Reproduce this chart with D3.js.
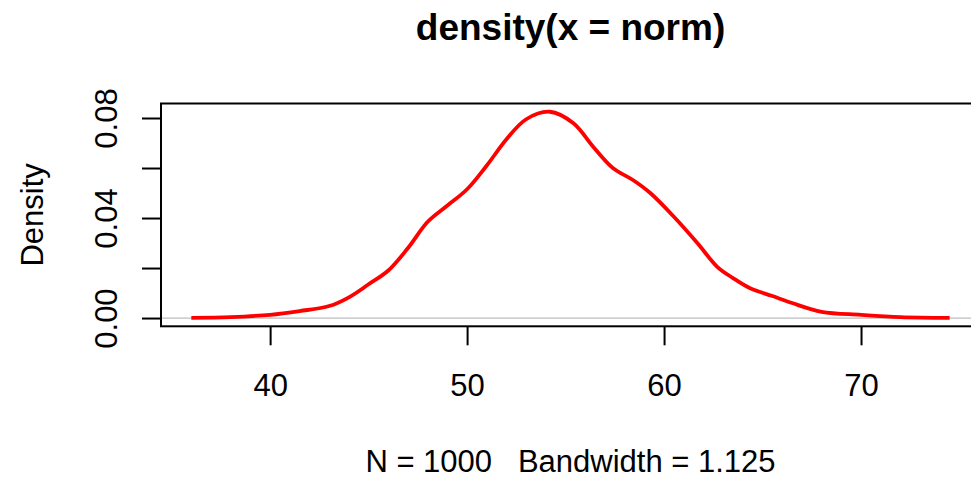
<!DOCTYPE html>
<html>
<head>
<meta charset="utf-8">
<script src="https://cdn.jsdelivr.net/npm/d3@7"></script>
<style>
  body { margin: 0; background: #fff; }
  text { font-family: "Liberation Sans", Arial, sans-serif; white-space: pre; }
</style>
</head>
<body>
<script>
var w = 971;
var h = 477;

// density estimate
var xs = [36, 38, 40, 41.5, 43, 44, 45, 46, 47, 48, 49, 50, 51, 52, 53, 54.2,
          55.4, 56.4, 57.4, 58.4, 59.3, 60.5, 61.7, 62.7, 63.5, 64.4, 65.5, 66.5,
          68, 70, 72, 74.5];
var dens = [0.0001, 0.0004, 0.0013, 0.0028, 0.0048, 0.0083, 0.0135, 0.0190,
            0.0280, 0.0385, 0.0450, 0.0515, 0.0610, 0.0715, 0.0795, 0.0825,
            0.0779, 0.0685, 0.0600, 0.0553, 0.0500, 0.0405, 0.0299, 0.0205,
            0.0160, 0.0118, 0.0088, 0.0060, 0.0025, 0.0013, 0.0004, 0.0001];

var xTicks = [40, 50, 60, 70];
var yTicks = [0, 0.02, 0.04, 0.06, 0.08];
var yLabelled = [0, 0.04, 0.08];

var titleText = "density(x = norm)";
var subText = "N = 1000   Bandwidth = 1.125";
var yTitle = "Density";

// plot region (right edge runs past the window like the original)
var pLeft = 161, pRight = 980, pTop = 103.5, pBottom = 326.3;

// R style 4% padding
var xExt = d3.extent(xs);
var xPad = (xExt[1] - xExt[0]) * 0.04;
var yMax = d3.max(dens);
var yPad = yMax * 0.04;

var x = d3.scaleLinear().domain([xExt[0] - xPad, xExt[1] + xPad]).range([pLeft, pRight]);
var y = d3.scaleLinear().domain([-yPad, yMax + yPad]).range([pBottom, pTop]);

var svg = d3.select("body").append("svg").attr("width", w).attr("height", h);

// zero line
svg.append("line")
  .attr("x1", pLeft).attr("x2", pRight)
  .attr("y1", y(0)).attr("y2", y(0))
  .style("stroke", "#bebebe")
  .style("stroke-width", 1.2);

// the density curve
var line = d3.line()
  .x(function (d, i) { return x(xs[i]); })
  .y(function (d) { return y(d); })
  .curve(d3.curveCatmullRom.alpha(0.5));

svg.append("path")
  .datum(dens)
  .attr("d", line)
  .style("fill", "none")
  .style("stroke", "#ff0000")
  .style("stroke-width", 3.8)
  .style("stroke-linejoin", "round");

// box
svg.append("rect")
  .attr("x", pLeft).attr("y", pTop)
  .attr("width", pRight - pLeft).attr("height", pBottom - pTop)
  .style("fill", "none")
  .style("stroke", "black")
  .style("stroke-width", 2);

// x axis
var gx = svg.append("g")
  .attr("transform", "translate(0," + pBottom + ")")
  .call(d3.axisBottom(x).tickValues(xTicks).tickSize(19).tickFormat(d3.format("d")));
gx.select(".domain").remove();
gx.selectAll("line").style("stroke", "black").style("stroke-width", 2);
gx.selectAll("text")
  .attr("y", 396 - pBottom).attr("dy", 0)
  .style("font-size", "31px").style("fill", "black");

// y axis, labels turned like R's las = 0
var gy = svg.append("g")
  .attr("transform", "translate(" + pLeft + ",0)")
  .call(d3.axisLeft(y).tickValues(yTicks).tickSize(19)
    .tickFormat(function (d) {
      return yLabelled.indexOf(d) >= 0 ? d3.format(".2f")(d) : "";
    }));
gy.select(".domain").remove();
gy.selectAll("line").style("stroke", "black").style("stroke-width", 2);
gy.selectAll("text")
  .attr("transform", "rotate(-90)")
  .attr("x", 0).attr("y", -(pLeft - 117)).attr("dy", 0)
  .style("text-anchor", "middle")
  .style("font-size", "31px").style("fill", "black");

// titles
svg.append("text")
  .attr("x", (pLeft + pRight) / 2).attr("y", 40)
  .style("text-anchor", "middle")
  .style("font-weight", "bold")
  .style("font-size", "37px")
  .text(titleText);

svg.append("text")
  .attr("x", (pLeft + pRight) / 2).attr("y", 472)
  .style("text-anchor", "middle")
  .style("font-size", "31px")
  .text(subText);

svg.append("text")
  .attr("transform", "translate(43," + (pTop + pBottom) / 2 + ") rotate(-90)")
  .style("text-anchor", "middle")
  .style("font-size", "31px")
  .text(yTitle);
</script>
</body>
</html>
